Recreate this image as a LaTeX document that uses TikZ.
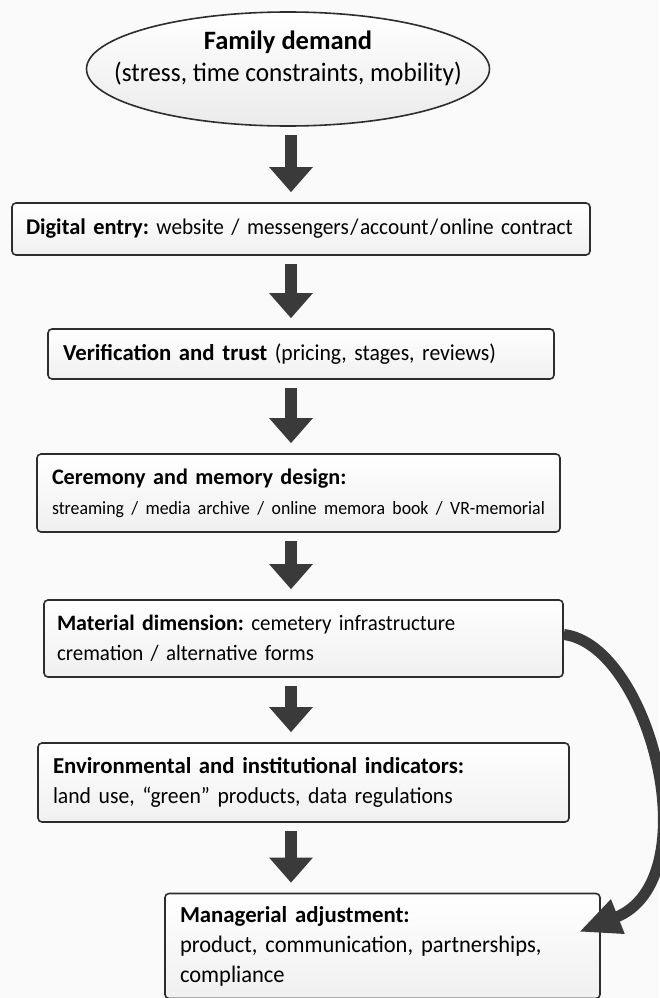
\documentclass[tikz,border=0pt]{standalone}
\usepackage{fontspec}
\setmainfont{Carlito}[UprightFeatures={FakeStretch=0.95}]
\usepackage{tikz}
\usepackage{xcolor}
\usetikzlibrary{arrows.meta,shapes.geometric}

\definecolor{inkgray}{RGB}{45,45,45}
\definecolor{arrowgray}{RGB}{58,58,58}
\tikzset{
    stage/.style={draw=inkgray, line width=1.6pt, rounded corners=4pt,
        top color=white, bottom color=black!6, inner xsep=15pt, inner ysep=0pt,
        align=left, font=\fontsize{22.8}{30}\selectfont},
    flow/.style={draw=arrowgray, line width=12pt,
        -{Triangle[width=42pt,length=25pt]}, shorten <=8pt, shorten >=10pt},
    loopback/.style={draw=arrowgray, line width=11pt,
        -{Triangle[width=34pt,length=42pt]}}
}
\newcommand{\tightslash}{\kern1.5pt/\kern1.5pt}
\frenchspacing

\begin{document}
\begin{tikzpicture}[x=1pt,y=-1pt]
                \fill[black!2] (0,0) rectangle (659,998);
                \useasboundingbox (0,0) rectangle (659,998);
                \node[ellipse, draw=inkgray, line width=1.6pt, top color=white, bottom color=black!8,
                    minimum width=403pt, minimum height=114pt, inner xsep=-34pt, inner ysep=0pt, align=center,
                    text depth=26pt, font=\fontsize{26.6}{32}\selectfont] (fam) at (288,69)
                    {\textbf{\fontsize{26.5}{32}\selectfont Family demand}\\(stress, time constraints, mobility)};
                \node[stage, inner xsep=14pt, text width=550pt, minimum height=52pt,
                    font=\fontsize{22.4}{30}\selectfont] (dig) at (301,229)
                    {\textbf{Digital entry:} website / messengers\tightslash account\tightslash online contract};
                \node[stage, text width=476pt, minimum height=50pt] (ver) at (301,354)
                    {\textbf{Verification and trust} (pricing, stages, reviews)};
                \node[stage, text width=493pt, minimum height=78pt, font=\fontsize{22.2}{30}\selectfont] (cer) at (298.5,493)
                    {\textbf{Ceremony and memory design:}\\{\fontsize{18.7}{30}\selectfont streaming / media archive / online memora book / VR-memorial}};
                \node[stage, inner xsep=13pt, text width=493pt, minimum height=77pt, font=\fontsize{22}{30}\selectfont] (mat) at (303.5,638.5)
                    {\textbf{Material dimension:} cemetery infrastructure\\cremation / alternative forms};
                \node[stage, text width=501pt, minimum height=79pt] (env) at (303.5,782.5)
                    {\textbf{Environmental and institutional indicators:}\\land use, “green” products, data regulations};
                \node[stage, text width=405pt, minimum height=105pt,
                    font=\fontsize{23.7}{30}\selectfont] (man) at (382.5,946)
                    {{\fontsize{22.8}{30}\selectfont\textbf{Managerial adjustment:}}\\product, communication, partnerships,\\compliance};
                % main flow
                \foreach \a/\b in {fam/dig,dig/ver,ver/cer,cer/mat,mat/env,env/man}
                    \draw[flow] (\a.south -| 291,0) -- (\b.north -| 291,0);
                % feedback from material side
                \draw[loopback] ([yshift=4pt]mat.east) .. controls (650,645) and (710,880) .. ([shift={(-22pt,14pt)}]man.east);
            \end{tikzpicture}
\end{document}
